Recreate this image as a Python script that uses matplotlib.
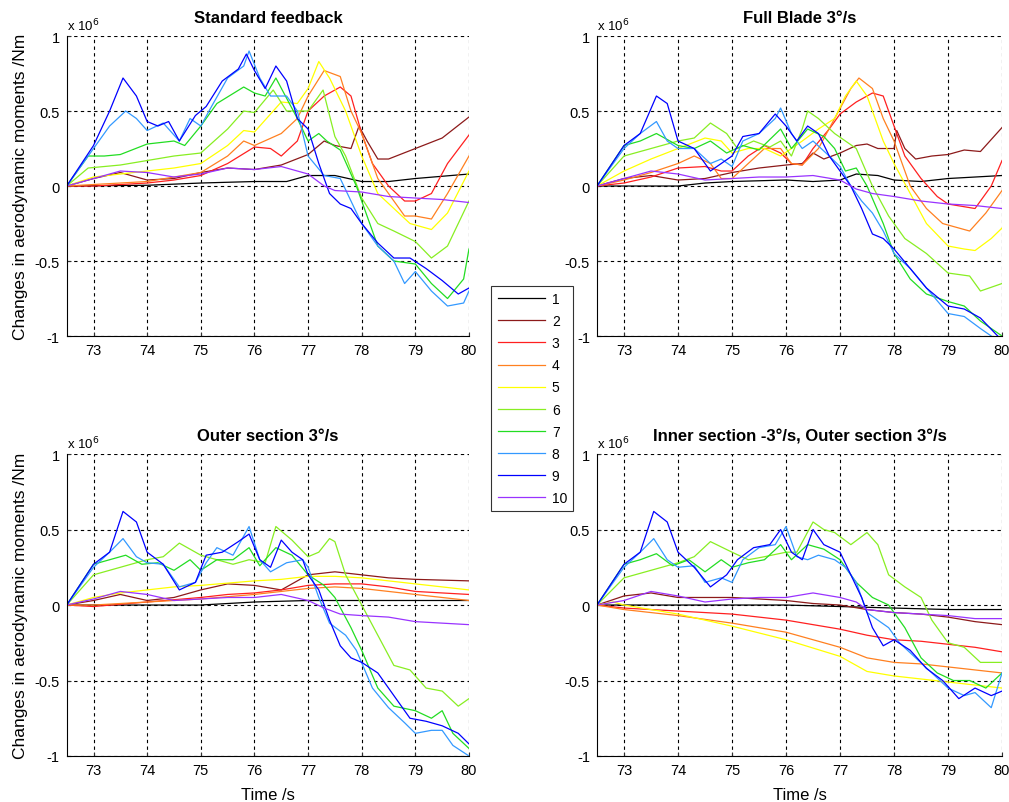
import matplotlib
matplotlib.use("Agg")
import matplotlib.pyplot as plt
from matplotlib.ticker import FuncFormatter, FixedLocator

plt.rcParams['font.family'] = ['Liberation Sans', 'DejaVu Sans']

labels = ['1', '2', '3', '4', '5', '6', '7', '8', '9', '10']
colors = ['#000000', '#8c1a1a', '#ff2020', '#ff8020', '#ffff00',
          '#88ee22', '#22dd22', '#3399ff', '#0000ff', '#9933ff']
titles = ['Standard feedback', 'Full Blade 3°/s', 'Outer section 3°/s',
          'Inner section -3°/s, Outer section 3°/s']
xticks = [73, 74, 75, 76, 77, 78, 79, 80]
yticks = [-1e6, -0.5e6, 0, 0.5e6, 1e6]
ytick_labels = ['-1', '-0.5', '0', '0.5', '1']

# values in units of 1e6 Nm, each series as (time, value) pairs
standard_feedback = {
    '1': [(72.5, 0), (74, 0.005), (75, 0.02), (76, 0.03), (76.6, 0.03), (77, 0.07), (77.5, 0.07),
          (78, 0.03), (78.5, 0.03), (79, 0.05), (80, 0.08)],
    '2': [(72.5, 0), (73, 0.05), (73.5, 0.09), (74, 0.04), (74.5, 0.05), (75, 0.09), (75.5, 0.12),
          (76, 0.11), (76.5, 0.14), (77, 0.21), (77.3, 0.3), (77.5, 0.27), (77.8, 0.25), (77.95, 0.4),
          (78.1, 0.3), (78.3, 0.18), (78.5, 0.18), (79, 0.25), (79.5, 0.32), (80, 0.46)],
    '3': [(72.5, 0), (73, 0.0), (74, 0.02), (74.5, 0.04), (75, 0.07), (75.5, 0.15), (76, 0.26),
          (76.3, 0.25), (76.5, 0.2), (76.8, 0.3), (77, 0.5), (77.3, 0.6), (77.6, 0.66), (77.8, 0.6),
          (78, 0.35), (78.2, 0.15), (78.5, 0.0), (78.8, -0.1), (79, -0.1), (79.3, -0.05),
          (79.6, 0.15), (80, 0.34)],
    '4': [(72.5, 0), (73, 0.01), (74, 0.03), (75, 0.09), (75.5, 0.2), (75.8, 0.3), (76, 0.27),
          (76.5, 0.35), (76.8, 0.45), (77, 0.6), (77.3, 0.77), (77.6, 0.73), (77.8, 0.5), (78, 0.35),
          (78.3, 0.05), (78.6, -0.1), (78.8, -0.2), (79, -0.2), (79.3, -0.22), (79.6, -0.05),
          (80, 0.2)],
    '5': [(72.5, 0), (73, 0.06), (73.5, 0.08), (74, 0.1), (74.5, 0.12), (75, 0.15), (75.5, 0.27),
          (75.8, 0.37), (76, 0.36), (76.3, 0.48), (76.5, 0.56), (76.8, 0.55), (77, 0.65),
          (77.2, 0.83), (77.4, 0.72), (77.7, 0.5), (78, 0.2), (78.3, -0.05), (78.6, -0.15),
          (78.9, -0.25), (79.3, -0.29), (79.6, -0.18), (80, 0.1)],
    '6': [(72.5, 0), (72.9, 0.12), (73.5, 0.14), (74, 0.17), (74.5, 0.2), (75, 0.22), (75.5, 0.38),
          (75.8, 0.5), (76, 0.49), (76.35, 0.64), (76.6, 0.5), (77, 0.5), (77.28, 0.64),
          (77.5, 0.33), (77.7, 0.2), (78, -0.08), (78.3, -0.25), (78.6, -0.3), (79, -0.37),
          (79.3, -0.48), (79.6, -0.4), (80, -0.1)],
    '7': [(72.5, 0), (72.9, 0.2), (73.2, 0.2), (73.5, 0.21), (74, 0.28), (74.5, 0.3), (74.7, 0.27),
          (75, 0.4), (75.3, 0.55), (75.8, 0.66), (76, 0.62), (76.2, 0.6), (76.4, 0.72), (76.8, 0.45),
          (77, 0.3), (77.2, 0.35), (77.35, 0.3), (77.6, 0.24), (77.9, 0.0), (78.1, -0.2), (78.3, -0.4),
          (78.6, -0.5), (79, -0.52), (79.3, -0.65), (79.6, -0.75), (79.9, -0.62), (80, -0.42)],
    '8': [(72.5, 0), (73, 0.25), (73.3, 0.4), (73.6, 0.5), (73.8, 0.45), (74, 0.37), (74.3, 0.42),
          (74.6, 0.3), (74.8, 0.45), (75, 0.4), (75.2, 0.53), (75.5, 0.72), (75.8, 0.8),
          (75.9, 0.9), (76.1, 0.72), (76.3, 0.6), (76.6, 0.6), (76.8, 0.5), (77, 0.2), (77.3, 0.07),
          (77.6, 0.05), (77.8, -0.1), (78, -0.25), (78.3, -0.4), (78.6, -0.5), (78.8, -0.65),
          (79, -0.57), (79.3, -0.7), (79.6, -0.8), (79.9, -0.78), (80, -0.7)],
    '9': [(72.5, 0), (73, 0.27), (73.3, 0.5), (73.55, 0.72), (73.8, 0.6), (74, 0.43), (74.2, 0.4),
          (74.4, 0.43), (74.6, 0.3), (74.9, 0.47), (75.1, 0.53), (75.4, 0.7), (75.7, 0.78),
          (75.85, 0.88), (76, 0.77), (76.2, 0.65), (76.4, 0.8), (76.6, 0.7), (76.8, 0.45),
          (77, 0.38), (77.2, 0.15), (77.4, -0.05), (77.6, -0.12), (77.8, -0.15), (78, -0.25),
          (78.3, -0.38), (78.6, -0.48), (78.9, -0.48), (79.2, -0.55), (79.5, -0.63), (79.8, -0.72),
          (80, -0.68)],
    '10': [(72.5, 0), (73, 0.05), (73.5, 0.1), (74, 0.09), (74.5, 0.06), (75, 0.08), (75.5, 0.12),
           (76, 0.11), (76.5, 0.13), (76.8, 0.1), (77, 0.08), (77.3, 0.0), (77.5, -0.03),
           (78, -0.04), (78.5, -0.07), (79, -0.08), (79.5, -0.09), (80, -0.11)],
}

full_blade = {
    '1': [(72.5, 0), (74, 0.0), (74.5, 0.02), (75, 0.03), (76, 0.04), (76.5, 0.03), (77, 0.04),
          (77.3, 0.08), (77.7, 0.07), (78, 0.04), (78.5, 0.03), (79, 0.05), (79.5, 0.06), (80, 0.07)],
    '2': [(72.5, 0), (73, 0.05), (73.5, 0.07), (74, 0.04), (74.5, 0.05), (75, 0.09), (75.5, 0.12),
          (76, 0.14), (76.3, 0.15), (76.5, 0.22), (76.7, 0.18), (77, 0.22), (77.3, 0.27),
          (77.5, 0.28), (77.7, 0.25), (78, 0.25), (78.05, 0.37), (78.2, 0.25), (78.4, 0.18),
          (78.7, 0.2), (79, 0.21), (79.3, 0.24), (79.6, 0.23), (80, 0.39)],
    '3': [(72.5, 0), (73, 0.02), (73.5, 0.06), (74, 0.12), (74.5, 0.13), (74.8, 0.1), (75, 0.1),
          (75.3, 0.2), (75.6, 0.27), (75.9, 0.22), (76.1, 0.15), (76.3, 0.14), (76.5, 0.25),
          (76.8, 0.38), (77, 0.48), (77.3, 0.56), (77.6, 0.62), (77.8, 0.6), (78, 0.4), (78.2, 0.2),
          (78.5, 0.05), (78.8, -0.07), (79, -0.12), (79.5, -0.15), (79.8, 0.0), (80, 0.17)],
    '4': [(72.5, 0), (73, 0.04), (73.5, 0.09), (74, 0.15), (74.3, 0.2), (74.6, 0.15), (74.8, 0.05),
          (75, 0.05), (75.3, 0.15), (75.6, 0.25), (75.9, 0.25), (76.1, 0.15), (76.3, 0.14),
          (76.6, 0.25), (76.9, 0.45), (77.2, 0.65), (77.35, 0.72), (77.6, 0.65), (77.8, 0.45),
          (78, 0.3), (78.3, 0.0), (78.6, -0.15), (78.9, -0.25), (79.2, -0.28), (79.4, -0.3),
          (79.7, -0.18), (80, -0.03)],
    '5': [(72.5, 0), (73, 0.1), (73.5, 0.18), (74, 0.25), (74.5, 0.32), (74.8, 0.3), (75, 0.22),
          (75.3, 0.25), (75.6, 0.25), (75.9, 0.2), (76.1, 0.25), (76.3, 0.3), (76.6, 0.38),
          (76.9, 0.45), (77.1, 0.6), (77.3, 0.7), (77.5, 0.6), (77.8, 0.3), (78, 0.15),
          (78.3, -0.05), (78.6, -0.25), (79, -0.4), (79.3, -0.42), (79.5, -0.43), (79.8, -0.35),
          (80, -0.28)],
    '6': [(72.5, 0), (73, 0.2), (73.5, 0.25), (74, 0.3), (74.3, 0.32), (74.6, 0.42), (74.9, 0.35),
          (75.1, 0.25), (75.4, 0.3), (75.7, 0.26), (75.9, 0.3), (76.1, 0.2), (76.3, 0.38),
          (76.4, 0.5), (76.6, 0.45), (76.9, 0.35), (77.1, 0.3), (77.3, 0.25), (77.6, 0.0),
          (77.9, -0.2), (78.2, -0.35), (78.6, -0.45), (79, -0.58), (79.4, -0.6), (79.6, -0.7),
          (80, -0.65)],
    '7': [(72.5, 0), (73, 0.27), (73.3, 0.3), (73.6, 0.35), (74, 0.27), (74.3, 0.25), (74.6, 0.3),
          (74.9, 0.22), (75.2, 0.27), (75.5, 0.24), (75.9, 0.38), (76.1, 0.25), (76.4, 0.38),
          (76.7, 0.33), (76.9, 0.25), (77.1, 0.1), (77.3, 0.12), (77.5, 0.0), (77.8, -0.25),
          (78, -0.45), (78.3, -0.62), (78.6, -0.72), (79, -0.77), (79.3, -0.8), (79.6, -0.9),
          (80, -1.0)],
    '8': [(72.5, 0), (73, 0.25), (73.3, 0.35), (73.6, 0.43), (73.8, 0.3), (74, 0.25), (74.3, 0.25),
          (74.6, 0.15), (74.8, 0.18), (75, 0.13), (75.2, 0.3), (75.5, 0.35), (75.8, 0.45),
          (75.9, 0.52), (76.1, 0.35), (76.3, 0.25), (76.5, 0.3), (76.8, 0.2), (77, 0.13),
          (77.2, 0.0), (77.4, -0.1), (77.6, -0.18), (77.8, -0.3), (78, -0.45), (78.3, -0.55),
          (78.6, -0.68), (79, -0.85), (79.3, -0.87), (79.6, -0.95), (80, -1.05)],
    '9': [(72.5, 0), (73, 0.27), (73.3, 0.35), (73.6, 0.6), (73.8, 0.55), (74, 0.3), (74.3, 0.25),
          (74.6, 0.1), (74.8, 0.15), (75, 0.2), (75.2, 0.33), (75.5, 0.35), (75.8, 0.48),
          (76, 0.4), (76.2, 0.3), (76.4, 0.4), (76.6, 0.35), (76.8, 0.2), (77, 0.1), (77.2, 0.0),
          (77.4, -0.15), (77.6, -0.32), (77.8, -0.35), (78, -0.42), (78.3, -0.55), (78.6, -0.68),
          (79, -0.8), (79.3, -0.82), (79.6, -0.88), (80, -1.03)],
    '10': [(72.5, 0), (73, 0.05), (73.5, 0.1), (74, 0.08), (74.5, 0.04), (75, 0.05), (75.5, 0.06),
           (76, 0.06), (76.5, 0.07), (77, 0.04), (77.3, -0.02), (77.6, -0.05), (78, -0.07),
           (78.5, -0.1), (79, -0.12), (79.5, -0.13), (80, -0.15)],
}

outer_section = {
    '1': [(72.5, 0), (75, 0.0), (76, 0.02), (77, 0.03), (78, 0.03), (79, 0.03), (80, 0.03)],
    '2': [(72.5, 0), (73, 0.03), (73.5, 0.07), (74, 0.03), (74.5, 0.05), (75, 0.1), (75.5, 0.14),
          (76, 0.13), (76.5, 0.1), (77, 0.2), (77.5, 0.22), (78, 0.2), (78.5, 0.18), (79, 0.17),
          (80, 0.16)],
    '3': [(72.5, 0), (73, -0.01), (74, 0.02), (75, 0.05), (75.5, 0.07), (76, 0.08), (76.5, 0.1),
          (77, 0.13), (77.5, 0.14), (78, 0.14), (78.5, 0.12), (79, 0.09), (80, 0.07)],
    '4': [(72.5, 0), (73, 0.0), (74, 0.02), (75, 0.04), (76, 0.07), (76.5, 0.09), (77, 0.11),
          (77.5, 0.12), (78, 0.11), (78.5, 0.09), (79, 0.07), (80, 0.03)],
    '5': [(72.5, 0), (73, 0.05), (73.5, 0.08), (74, 0.1), (74.5, 0.12), (75, 0.13), (76, 0.16),
          (76.5, 0.17), (77, 0.19), (77.5, 0.19), (78, 0.18), (78.5, 0.16), (79, 0.14), (80, 0.1)],
    '6': [(72.5, 0), (73, 0.2), (73.5, 0.25), (74, 0.3), (74.3, 0.32), (74.6, 0.41), (75, 0.33),
          (75.3, 0.3), (75.6, 0.27), (75.9, 0.3), (76.2, 0.28), (76.4, 0.52), (76.7, 0.43),
          (77, 0.32), (77.2, 0.35), (77.4, 0.44), (77.5, 0.42), (77.7, 0.2), (78, 0.0),
          (78.3, -0.2), (78.6, -0.4), (78.9, -0.43), (79.2, -0.55), (79.5, -0.57), (79.8, -0.67),
          (80, -0.62)],
    '7': [(72.5, 0), (73, 0.27), (73.3, 0.3), (73.6, 0.33), (73.9, 0.27), (74.2, 0.28), (74.5, 0.23),
          (74.8, 0.3), (75, 0.23), (75.3, 0.3), (75.6, 0.3), (75.9, 0.38), (76.1, 0.26),
          (76.4, 0.38), (76.7, 0.33), (77, 0.2), (77.3, 0.13), (77.5, 0.05), (77.8, -0.15),
          (78, -0.3), (78.3, -0.55), (78.6, -0.67), (79, -0.7), (79.3, -0.75), (79.5, -0.7),
          (79.7, -0.85), (80, -0.95)],
    '8': [(72.5, 0), (73, 0.25), (73.3, 0.35), (73.55, 0.44), (73.8, 0.32), (74, 0.28), (74.3, 0.27),
          (74.6, 0.12), (74.9, 0.15), (75.1, 0.28), (75.3, 0.38), (75.6, 0.33), (75.9, 0.52),
          (76.1, 0.3), (76.3, 0.22), (76.6, 0.28), (76.9, 0.3), (77, 0.25), (77.2, 0.05),
          (77.4, -0.12), (77.7, -0.2), (77.9, -0.3), (78.2, -0.55), (78.5, -0.68), (78.8, -0.78),
          (79, -0.85), (79.3, -0.83), (79.5, -0.83), (79.7, -0.93), (80, -1.0)],
    '9': [(72.5, 0), (73, 0.27), (73.3, 0.35), (73.55, 0.62), (73.8, 0.55), (74, 0.35), (74.3, 0.27),
          (74.6, 0.1), (74.9, 0.15), (75.1, 0.33), (75.4, 0.35), (75.7, 0.42), (75.9, 0.47),
          (76.1, 0.3), (76.3, 0.25), (76.5, 0.43), (76.7, 0.35), (76.9, 0.3), (77, 0.2),
          (77.2, 0.1), (77.4, -0.1), (77.6, -0.27), (77.8, -0.35), (78, -0.38), (78.3, -0.45),
          (78.6, -0.6), (78.9, -0.75), (79.2, -0.77), (79.5, -0.8), (79.8, -0.85), (80, -0.92)],
    '10': [(72.5, 0), (73, 0.04), (73.5, 0.09), (74, 0.07), (74.5, 0.03), (75, 0.04), (75.5, 0.05),
           (76, 0.05), (76.5, 0.07), (77, 0.03), (77.3, -0.02), (77.6, -0.06), (78, -0.07),
           (78.5, -0.08), (79, -0.11), (79.5, -0.12), (80, -0.13)],
}

inner_outer = {
    '1': [(72.5, 0), (76, 0.0), (77, -0.01), (78, -0.02), (79, -0.03), (80, -0.03)],
    '2': [(72.5, 0), (73, 0.06), (73.5, 0.08), (74, 0.05), (74.5, 0.05), (75, 0.05), (75.5, 0.04),
          (76, 0.03), (76.5, 0.01), (77, 0.0), (77.5, -0.03), (78, -0.05), (78.5, -0.06),
          (79, -0.08), (79.5, -0.11), (80, -0.13)],
    '3': [(72.5, 0), (73, -0.02), (74, -0.04), (75, -0.06), (76, -0.1), (77, -0.16), (77.5, -0.2),
          (78, -0.23), (78.5, -0.24), (79, -0.26), (79.5, -0.28), (80, -0.31)],
    '4': [(72.5, 0), (73, -0.03), (74, -0.07), (75, -0.12), (76, -0.18), (77, -0.28), (77.5, -0.35),
          (78, -0.38), (78.5, -0.39), (79, -0.41), (79.5, -0.43), (80, -0.45)],
    '5': [(72.5, 0), (72.8, 0.02), (73, 0.0), (74, -0.06), (75, -0.14), (76, -0.23), (77, -0.34),
          (77.5, -0.44), (78, -0.47), (78.5, -0.49), (79, -0.51), (79.5, -0.53), (80, -0.55)],
    '6': [(72.5, 0), (73, 0.18), (73.5, 0.23), (74, 0.28), (74.3, 0.32), (74.6, 0.42), (75, 0.35),
          (75.3, 0.3), (75.6, 0.32), (76, 0.35), (76.2, 0.35), (76.5, 0.55), (76.7, 0.5),
          (76.9, 0.48), (77.2, 0.4), (77.5, 0.48), (77.7, 0.4), (77.9, 0.2), (78.2, 0.12),
          (78.5, 0.05), (78.7, -0.1), (79, -0.25), (79.3, -0.28), (79.6, -0.38), (80, -0.38)],
    '7': [(72.5, 0), (73, 0.27), (73.3, 0.3), (73.6, 0.34), (73.9, 0.26), (74.2, 0.3), (74.5, 0.22),
          (74.8, 0.3), (75, 0.25), (75.3, 0.28), (75.6, 0.3), (75.9, 0.4), (76.1, 0.3), (76.4, 0.4),
          (76.7, 0.37), (77, 0.3), (77.3, 0.15), (77.6, 0.05), (77.9, 0.0), (78.2, -0.15),
          (78.5, -0.35), (78.8, -0.45), (79.1, -0.5), (79.4, -0.5), (79.7, -0.55), (80, -0.45)],
    '8': [(72.5, 0), (73, 0.25), (73.3, 0.35), (73.55, 0.44), (73.8, 0.3), (74, 0.25), (74.3, 0.26),
          (74.5, 0.15), (74.8, 0.18), (75, 0.15), (75.2, 0.3), (75.5, 0.38), (75.8, 0.4),
          (76, 0.52), (76.2, 0.32), (76.4, 0.3), (76.6, 0.33), (76.9, 0.3), (77.1, 0.25),
          (77.3, 0.15), (77.5, -0.05), (77.7, -0.1), (77.9, -0.15), (78.1, -0.25), (78.4, -0.35),
          (78.7, -0.45), (79, -0.55), (79.3, -0.6), (79.5, -0.58), (79.8, -0.68), (80, -0.45)],
    '9': [(72.5, 0), (73, 0.27), (73.3, 0.35), (73.55, 0.62), (73.8, 0.55), (74, 0.35), (74.3, 0.25),
          (74.6, 0.12), (74.9, 0.2), (75.1, 0.3), (75.4, 0.38), (75.7, 0.4), (75.9, 0.5),
          (76.1, 0.35), (76.3, 0.3), (76.5, 0.5), (76.7, 0.4), (77, 0.35), (77.2, 0.2),
          (77.4, 0.05), (77.6, -0.15), (77.8, -0.27), (78, -0.23), (78.3, -0.3), (78.6, -0.42),
          (78.9, -0.5), (79.2, -0.62), (79.5, -0.55), (79.8, -0.6), (80, -0.57)],
    '10': [(72.5, 0), (73, 0.03), (73.5, 0.09), (74, 0.06), (74.5, 0.02), (75, 0.04), (75.5, 0.05),
           (76, 0.05), (76.5, 0.08), (77, 0.05), (77.3, 0.02), (77.5, -0.03), (78, -0.05),
           (78.5, -0.06), (79, -0.07), (79.5, -0.09), (80, -0.09)],
}

panels = [standard_feedback, full_blade, outer_section, inner_outer]

fig = plt.figure(figsize=(10.09, 8.03), dpi=100)
positions = [
    [0.0661, 0.5803, 0.3987, 0.3736],
    [0.5917, 0.5803, 0.4014, 0.3736],
    [0.0661, 0.0573, 0.3987, 0.3760],
    [0.5917, 0.0573, 0.4014, 0.3760],
]
handles = []
for i, (pos, data, title) in enumerate(zip(positions, panels, titles)):
    ax = fig.add_axes(pos)
    for lab, col in zip(labels, colors):
        ts = [p[0] for p in data[lab]]
        vs = [p[1] * 1e6 for p in data[lab]]
        ln, = ax.plot(ts, vs, color=col, lw=0.9, label=lab)
        if i == 0:
            handles.append(ln)
    ax.set_xlim(72.5, 80)
    ax.set_ylim(-1e6, 1e6)
    ax.xaxis.set_major_locator(FixedLocator(xticks))
    ax.yaxis.set_major_locator(FixedLocator(yticks))
    ax.yaxis.set_major_formatter(FuncFormatter(
        lambda v, p: ytick_labels[yticks.index(v)] if v in yticks else ''))
    ax.grid(True, color='black', linestyle=(0, (3, 3)), linewidth=0.8)
    ax.spines['top'].set_visible(False)
    ax.spines['right'].set_visible(False)
    ax.tick_params(direction='in', length=3, labelsize=10.5, colors='#333333', pad=5)
    ax.tick_params(axis='both', labelcolor='black')
    ax.set_title(title, fontsize=12, fontweight='bold', pad=10)
    ax.text(0.0, 1.008, r'x 10$^6$', transform=ax.transAxes, fontsize=9.5,
            ha='left', va='bottom')
    if i % 2 == 0:
        ax.set_ylabel('Changes in aerodynamic moments /Nm', fontsize=12.5, labelpad=5)
    if i >= 2:
        ax.set_xlabel('Time /s', fontsize=12, labelpad=7)

leg = fig.legend(handles=handles, labels=labels, loc='center',
                 bbox_to_anchor=(0.5277, 0.5025), fontsize=10, frameon=True,
                 fancybox=False, edgecolor='black', handlelength=3.4,
                 labelspacing=0.58, borderpad=0.45, handletextpad=0.5)
leg.get_frame().set_linewidth(0.8)

fig.savefig('out.png', dpi=100)
